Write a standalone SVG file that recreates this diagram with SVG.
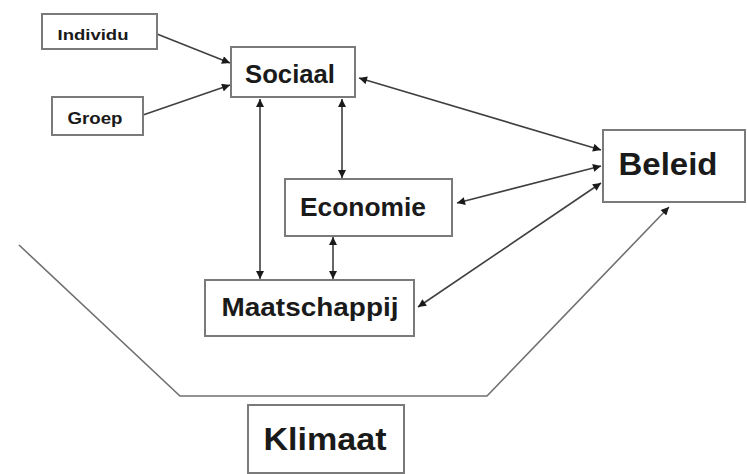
<svg xmlns="http://www.w3.org/2000/svg" width="747" height="474" viewBox="0 0 747 474">
<style>
.box{fill:#fff;stroke:#7a7a7a;stroke-width:2}
.t{font-family:"Liberation Sans",Arial,sans-serif;font-weight:bold;fill:#1a1a1a;text-anchor:middle}
.c{fill:none;stroke:#404040;stroke-width:1.6}
.k{fill:none;stroke:#707070;stroke-width:1.6}
</style>
<defs>
<marker id="ah" viewBox="0 0 10 10" refX="10" refY="5" markerWidth="9" markerHeight="8" markerUnits="userSpaceOnUse" orient="auto-start-reverse">
<path d="M0,0 L10,5 L0,10 Z" fill="#1a1a1a"/>
</marker>
</defs>
<rect width="747" height="474" fill="#fff"/>
<g id="connectors">
<line class="c" x1="157" y1="34" x2="230" y2="63" marker-end="url(#ah)"/>
<line class="c" x1="143" y1="115" x2="230" y2="85" marker-end="url(#ah)"/>
<line class="c" x1="359" y1="78" x2="601" y2="150" marker-start="url(#ah)" marker-end="url(#ah)"/>
<line class="c" x1="457" y1="203" x2="601" y2="166" marker-start="url(#ah)" marker-end="url(#ah)"/>
<line class="c" x1="418" y1="307" x2="601" y2="183" marker-start="url(#ah)" marker-end="url(#ah)"/>
<line class="c" x1="260" y1="99" x2="260" y2="279" marker-start="url(#ah)" marker-end="url(#ah)"/>
<line class="c" x1="342" y1="99" x2="342" y2="178" marker-start="url(#ah)" marker-end="url(#ah)"/>
<line class="c" x1="333" y1="237" x2="333" y2="279" marker-start="url(#ah)" marker-end="url(#ah)"/>
<polyline class="k" points="19,245 180,396 487,396 669,207" marker-end="url(#ah)"/>
</g>
<g id="individu">
<rect class="box" x="42" y="14" width="115" height="35"/>
<text class="t" x="93" y="40" font-size="15" textLength="71" lengthAdjust="spacingAndGlyphs">Individu</text>
</g>
<g id="groep">
<rect class="box" x="52" y="97" width="91" height="38"/>
<text class="t" x="95" y="124" font-size="16" textLength="55" lengthAdjust="spacingAndGlyphs">Groep</text>
</g>
<g id="sociaal">
<rect class="box" x="231" y="47" width="124" height="50"/>
<text class="t" x="290" y="83" font-size="26" textLength="90" lengthAdjust="spacingAndGlyphs">Sociaal</text>
</g>
<g id="beleid">
<rect class="box" x="603" y="130" width="142" height="72"/>
<text class="t" x="668" y="175" font-size="32" textLength="99" lengthAdjust="spacingAndGlyphs">Beleid</text>
</g>
<g id="economie">
<rect class="box" x="285" y="179" width="167" height="57"/>
<text class="t" x="363" y="216" font-size="26" textLength="126" lengthAdjust="spacingAndGlyphs">Economie</text>
</g>
<g id="maatschappij">
<rect class="box" x="205" y="280" width="209" height="56"/>
<text class="t" x="310" y="316" font-size="26" textLength="177" lengthAdjust="spacingAndGlyphs">Maatschappij</text>
</g>
<g id="klimaat">
<rect class="box" x="248" y="405" width="156" height="68"/>
<text class="t" x="325" y="450" font-size="32" textLength="123" lengthAdjust="spacingAndGlyphs">Klimaat</text>
</g>
</svg>
